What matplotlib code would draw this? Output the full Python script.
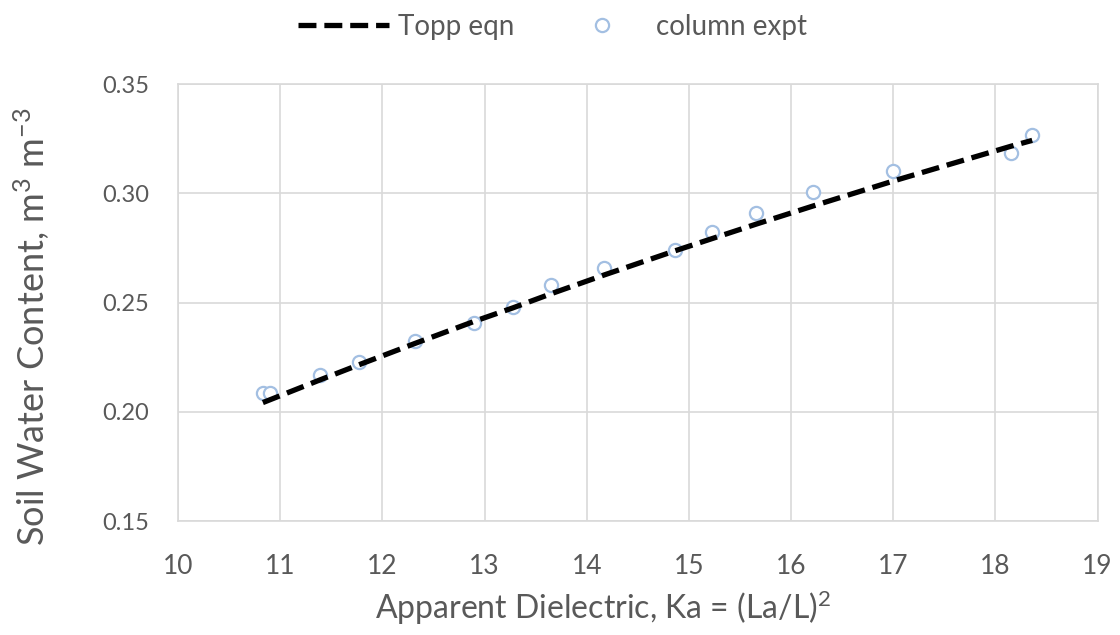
import matplotlib
matplotlib.use("Agg")
import matplotlib.pyplot as plt

# Apparent dielectric of each column measurement
ka_expt = [10.83, 10.90, 11.39, 11.77, 12.32, 12.90, 13.28, 13.65, 14.17,
           14.86, 15.23, 15.66, 16.21, 17.00, 18.15, 18.36]
# Measured volumetric water content (m3 m-3)
theta_expt = [0.2087, 0.2085, 0.2170, 0.2230, 0.2325, 0.2405, 0.2480, 0.2578,
              0.2657, 0.2740, 0.2825, 0.2909, 0.3006, 0.3100, 0.3183, 0.3265]
# Topp equation values at the same Ka
theta_topp = [0.2042, 0.2055, 0.2146, 0.2215, 0.2313, 0.2414, 0.2476, 0.2540,
              0.2626, 0.2736, 0.2793, 0.2859, 0.2941, 0.3056, 0.3215, 0.3242]

x_ticks = [10, 11, 12, 13, 14, 15, 16, 17, 18, 19]
y_ticks = [0.15, 0.20, 0.25, 0.30, 0.35]

plt.rcParams["font.family"] = ["Lato", "DejaVu Sans"]
text_grey = "#595959"
grid_grey = "#d9d9d9"

fig = plt.figure(figsize=(11.2, 6.35), dpi=100)
ax = fig.add_axes([0.159, 0.1795, 0.821, 0.6882])

ax.plot(ka_expt, theta_expt, linestyle="none", marker="o", markersize=9.5,
        markerfacecolor="white", markeredgecolor="#a3bfe2", markeredgewidth=1.6,
        label="column expt", zorder=2)
ax.plot(ka_expt, theta_topp, color="black", linestyle=(0, (3.4, 1.5)),
        linewidth=3.8, label="Topp eqn", zorder=3)

ax.set_xlim(10, 19)
ax.set_ylim(0.15, 0.35)
ax.set_xticks(x_ticks)
ax.set_yticks(y_ticks)
ax.set_xticklabels([str(t) for t in x_ticks])
ax.set_yticklabels([f"{t:.2f}" for t in y_ticks])
ax.tick_params(axis="both", length=0, colors=text_grey)
ax.tick_params(axis="x", labelsize=19, pad=24)
ax.tick_params(axis="y", labelsize=17, pad=21)
ax.grid(True, color=grid_grey, linewidth=1.2)
ax.set_axisbelow(True)
for side, spine in ax.spines.items():
    spine.set_color(grid_grey)
    spine.set_linewidth(1.2)

ax.set_xlabel(r"Apparent Dielectric, Ka = (La/L)$\mathregular{^2}$", fontsize=23,
              color=text_grey)
ax.xaxis.set_label_coords(0.462, -0.155)
ax.set_ylabel(r"Soil Water Content, m$\mathregular{^3}$ m$\mathregular{^{-3}}$",
              fontsize=26, color=text_grey)
ax.yaxis.set_label_coords(-0.137, 0.445)

handles, labels = ax.get_legend_handles_labels()
leg = fig.legend([handles[1], handles[0]], [labels[1], labels[0]],
                 loc="center", bbox_to_anchor=(0.493, 0.958), ncol=2,
                 frameon=False, fontsize=20, handlelength=3.3,
                 columnspacing=1.5, handletextpad=0.3, borderpad=0)
for t in leg.get_texts():
    t.set_color(text_grey)

fig.savefig("out.png", dpi=100, facecolor="white")
